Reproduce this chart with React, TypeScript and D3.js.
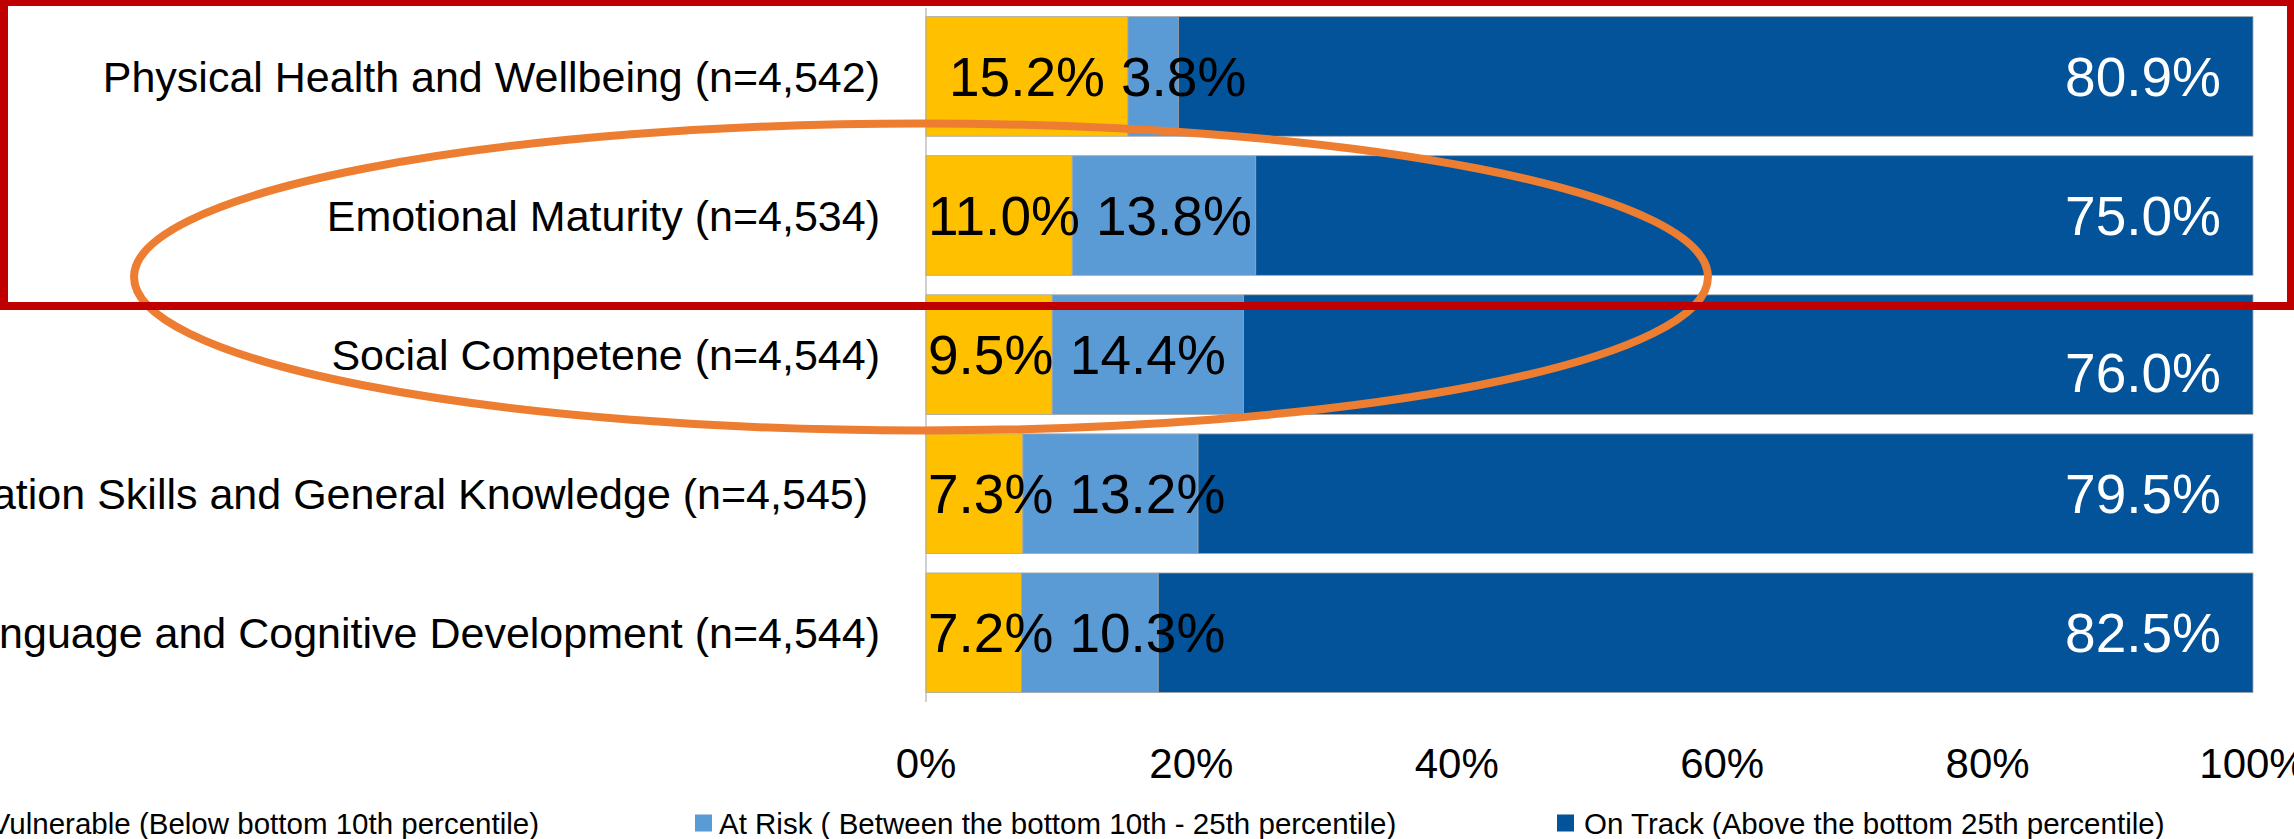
import React, { useEffect, useRef } from "react";
import * as d3 from "d3";

// Domain categories (top to bottom)
const categories: string[] = [
  "Physical Health and Wellbeing (n=4,542)",
  "Emotional Maturity (n=4,534)",
  "Social Competene (n=4,544)",
  "Communication Skills and General Knowledge (n=4,545) ",
  "Language and Cognitive Development (n=4,544)",
];

// Percentages per series, in category order
const vulnerable: number[] = [15.2, 11.0, 9.5, 7.3, 7.2];
const atRisk: number[] = [3.8, 13.8, 14.4, 13.2, 10.3];
const onTrack: number[] = [80.9, 75.0, 76.0, 79.5, 82.5];

const seriesKeys: string[] = ["vulnerable", "atRisk", "onTrack"];
const seriesNames: string[] = [
  "Vulnerable (Below bottom 10th percentile)",
  "At Risk ( Between the bottom 10th - 25th percentile)",
  "On Track (Above the bottom 25th percentile)",
];
const seriesColors: string[] = ["#FFC000", "#5B9BD5", "#02539A"];
const labelColors: string[] = ["#000000", "#000000", "#FFFFFF"];

const xTicks: number[] = [0, 0.2, 0.4, 0.6, 0.8, 1.0];

const W = 2294;
const H = 839;
const FONT = "'Liberation Sans', Arial, sans-serif";
const CAP = 0.716; // cap height ratio of the font

export default function App() {
  const ref = useRef<SVGSVGElement | null>(null);

  useEffect(() => {
    const svg = d3.select(ref.current);
    svg.selectAll("*").remove();

    const rows = categories.map((c, i) => ({
      category: c,
      vulnerable: vulnerable[i],
      atRisk: atRisk[i],
      onTrack: onTrack[i],
    }));

    const x = d3.scaleLinear().domain([0, 1]).range([926, 2253]);
    const y = d3
      .scaleBand<string>()
      .domain(categories)
      .range([6.9, 702.3])
      .paddingInner(0.14)
      .paddingOuter(0.07);

    const stacked = d3
      .stack<any>()
      .keys(seriesKeys)
      .offset(d3.stackOffsetExpand)(rows);

    // axis line
    svg
      .append("line")
      .attr("x1", x(0))
      .attr("x2", x(0))
      .attr("y1", 8)
      .attr("y2", 702)
      .attr("stroke", "#D0D0D0")
      .attr("stroke-width", 2);

    // bars
    const gBars = svg.append("g");
    stacked.forEach((layer, si) => {
      gBars
        .selectAll(null)
        .data(layer)
        .join("rect")
        .attr("x", (d: any) => x(d[0]))
        .attr("y", (d: any) => y(d.data.category)!)
        .attr("width", (d: any) => x(d[1]) - x(d[0]))
        .attr("height", y.bandwidth())
        .attr("fill", seriesColors[si])
        .attr("stroke", "#A6A6A6")
        .attr("stroke-width", 0.8);
    });

    // category labels
    const catSize = 43;
    svg
      .append("g")
      .selectAll("text")
      .data(categories)
      .join("text")
      .attr("x", 880)
      .attr("y", (d) => y(d)! + y.bandwidth() / 2 + (CAP * catSize) / 2)
      .attr("text-anchor", "end")
      .attr("font-family", FONT)
      .attr("font-size", catSize)
      .attr("fill", "#000")
      .style("white-space", "pre")
      .text((d) => d);

    // data labels, laid out left to right so they don't collide
    const lblSize = 55;
    const gLbl = svg.append("g");
    // the On Track label of this row sits a little lower
    const rowNudge: Record<number, number> = { 2: 18 };
    rows.forEach((row, ri) => {
      const cy = y(row.category)! + y.bandwidth() / 2 + (CAP * lblSize) / 2;
      let prevRight = x(0) + 2;
      let first = true;
      stacked.forEach((layer, si) => {
        const seg = layer[ri];
        const value = (row as any)[seriesKeys[si]] as number;
        const t = gLbl
          .append("text")
          .attr("font-family", FONT)
          .attr("font-size", lblSize)
          .attr("fill", labelColors[si])
          .text(value.toFixed(1) + "%");
        const w = (t.node() as SVGTextElement).getComputedTextLength();
        if (si === seriesKeys.length - 1) {
          t.attr("x", x(seg[1]) - 32)
            .attr("text-anchor", "end")
            .attr("y", cy + (rowNudge[ri] || 0));
        } else {
          const centered = (x(seg[0]) + x(seg[1])) / 2 - w / 2;
          const left = Math.max(centered, first ? prevRight : prevRight + 16);
          t.attr("x", left).attr("y", cy);
          prevRight = left + w;
          first = false;
        }
      });
    });

    // x tick labels
    const tickSize = 42;
    svg
      .append("g")
      .selectAll("text")
      .data(xTicks)
      .join("text")
      .attr("x", (d) => x(d))
      .attr("y", 763 + (CAP * tickSize) / 2)
      .attr("text-anchor", "middle")
      .attr("font-family", FONT)
      .attr("font-size", tickSize)
      .attr("fill", "#000")
      .text((d) => d3.format(".0%")(d));

    // legend
    const legSize = 29.5;
    const legY = 823;
    const legItems = [
      { textEnd: 539 },
      { markerX: 695, textX: 719 },
      { markerX: 1557, textX: 1584 },
    ];
    const gLeg = svg.append("g");
    seriesNames.forEach((name, i) => {
      const t = gLeg
        .append("text")
        .attr("font-family", FONT)
        .attr("font-size", legSize)
        .attr("fill", "#000")
        .attr("y", legY + (CAP * legSize) / 2)
        .style("white-space", "pre")
        .text(name);
      const w = (t.node() as SVGTextElement).getComputedTextLength();
      const it: any = legItems[i];
      let textX = it.textX;
      let markerX = it.markerX;
      if (it.textEnd !== undefined) {
        textX = it.textEnd - w;
        markerX = textX - 25;
      }
      t.attr("x", textX);
      gLeg
        .append("rect")
        .attr("x", markerX)
        .attr("y", legY - 8.5)
        .attr("width", 17)
        .attr("height", 17)
        .attr("fill", seriesColors[i]);
    });

    // highlight annotations
    svg
      .append("ellipse")
      .attr("cx", 921)
      .attr("cy", 277)
      .attr("rx", 787)
      .attr("ry", 153.5)
      .attr("fill", "none")
      .attr("stroke", "#ED7D31")
      .attr("stroke-width", 8);

    svg
      .append("rect")
      .attr("x", 4)
      .attr("y", 2)
      .attr("width", 2287)
      .attr("height", 304)
      .attr("fill", "none")
      .attr("stroke", "#C00000")
      .attr("stroke-width", 8);
  }, []);

  return (
    <>
      <style>{`body{margin:0;overflow:hidden;background:#fff}`}</style>
      <svg
        ref={ref}
        width={W}
        height={H}
        viewBox={`0 0 ${W} ${H}`}
        style={{ display: "block", background: "#fff" }}
      />
    </>
  );
}
